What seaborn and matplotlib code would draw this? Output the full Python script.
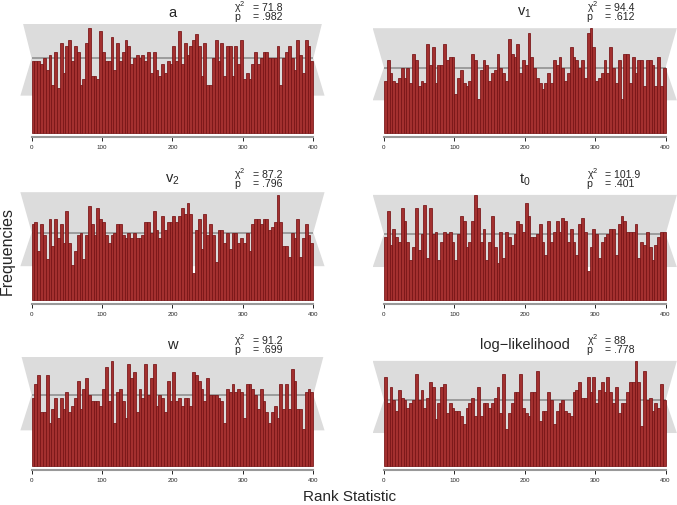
import matplotlib
matplotlib.use("Agg")
import matplotlib.pyplot as plt
import matplotlib.transforms as mtransforms
import numpy as np
import pandas as pd
import seaborn as sns

# SBC rank histograms, 100 bins of width 4 over ranks 0-400
rank_max = 400
n_bins = 100
expected = 25      # expected count per bin
band_lo = 12.5     # lower edge of the grey band
band_hi = 40       # upper edge of the grey band

panel_titles = ["a", "v$_1$", "v$_2$", "t$_0$", "w", "log\u2212likelihood"]
chi2_values = ["71.8", "94.4", "87.2", "101.9", "91.2", "88"]
p_values = [".982", ".612", ".796", ".401", ".699", ".778"]

a_counts = [24, 24, 24, 23, 25, 21, 26, 16, 27, 15,
            30, 20, 29, 31, 24, 29, 27, 16, 18, 30,
            35, 19, 19, 18, 34, 27, 24, 24, 32, 21,
            30, 24, 27, 31, 29, 23, 25, 26, 25, 26,
            24, 27, 20, 27, 21, 19, 23, 20, 24, 23,
            29, 24, 34, 23, 30, 26, 29, 31, 33, 29,
            19, 30, 16, 16, 25, 31, 24, 30, 19, 29,
            29, 19, 29, 23, 31, 18, 20, 18, 23, 27,
            23, 25, 27, 27, 25, 25, 25, 29, 16, 25,
            27, 29, 25, 21, 31, 26, 20, 31, 29, 24]

v1_counts = [20, 28, 23, 20, 19, 21, 25, 21, 25, 19,
             30, 28, 18, 20, 19, 34, 26, 33, 19, 26,
             26, 34, 28, 29, 29, 15, 21, 24, 19, 18,
             20, 30, 28, 13, 24, 28, 26, 20, 23, 24,
             30, 25, 23, 20, 36, 30, 29, 34, 23, 28,
             26, 38, 29, 25, 21, 19, 17, 19, 23, 19,
             28, 26, 29, 25, 20, 23, 33, 29, 28, 25,
             28, 21, 38, 40, 33, 20, 21, 23, 28, 23,
             33, 25, 19, 28, 13, 30, 30, 19, 29, 23,
             28, 28, 18, 28, 28, 26, 18, 29, 18, 25]

v2_counts = [28, 29, 18, 28, 24, 15, 30, 20, 30, 23,
             28, 21, 33, 21, 13, 18, 24, 25, 15, 24,
             35, 28, 24, 34, 30, 29, 24, 21, 24, 25,
             28, 28, 24, 23, 25, 23, 25, 23, 23, 24,
             29, 29, 25, 33, 26, 23, 31, 26, 29, 29,
             31, 29, 31, 34, 32, 36, 32, 10, 26, 30,
             19, 32, 24, 28, 24, 14, 26, 26, 21, 25,
             19, 25, 25, 21, 23, 21, 25, 18, 28, 30,
             30, 28, 30, 30, 26, 27, 29, 39, 29, 20,
             20, 16, 25, 23, 30, 16, 23, 28, 24, 21]

t0_counts = [24, 34, 21, 27, 24, 22, 35, 30, 22, 15,
             20, 35, 19, 25, 36, 16, 35, 25, 26, 15,
             22, 26, 25, 26, 22, 15, 25, 32, 30, 20,
             22, 30, 40, 35, 22, 27, 15, 22, 32, 20,
             14, 26, 16, 26, 24, 21, 25, 30, 29, 26,
             37, 32, 24, 24, 25, 29, 22, 17, 30, 22,
             26, 30, 26, 31, 30, 22, 27, 22, 17, 29,
             31, 26, 11, 20, 27, 25, 16, 22, 24, 25,
             27, 27, 17, 29, 32, 30, 26, 26, 26, 29,
             16, 22, 21, 26, 20, 15, 21, 24, 26, 26]

w_counts = [24, 29, 32, 19, 19, 32, 15, 20, 24, 17,
            24, 20, 26, 19, 21, 24, 30, 20, 27, 31,
            25, 23, 23, 23, 21, 27, 35, 23, 37, 15,
            26, 27, 23, 17, 36, 31, 33, 19, 27, 24,
            36, 25, 31, 36, 21, 25, 24, 19, 30, 23,
            33, 23, 24, 21, 24, 24, 21, 33, 32, 30,
            27, 23, 31, 25, 25, 25, 24, 23, 15, 27,
            26, 29, 26, 27, 26, 17, 29, 29, 27, 25,
            20, 27, 23, 19, 15, 19, 21, 17, 29, 20,
            29, 20, 34, 30, 20, 20, 13, 26, 27, 26]

ll_counts = [34, 24, 30, 25, 21, 29, 26, 25, 22, 24,
             25, 35, 25, 29, 22, 26, 32, 30, 18, 24,
             30, 31, 20, 24, 22, 21, 21, 19, 16, 22,
             24, 26, 19, 30, 19, 24, 24, 22, 24, 26,
             30, 20, 35, 14, 20, 24, 28, 28, 35, 22,
             20, 19, 28, 28, 36, 17, 21, 21, 28, 25,
             16, 21, 24, 25, 21, 20, 19, 28, 29, 32,
             26, 26, 34, 28, 34, 24, 29, 32, 28, 34,
             28, 24, 30, 20, 24, 24, 28, 32, 32, 40,
             32, 15, 36, 25, 26, 21, 24, 22, 31, 25]

all_counts = [a_counts, v1_counts, v2_counts, t0_counts, w_counts, ll_counts]

sns.set_style("white")
plt.rcParams["font.family"] = ["Liberation Sans", "DejaVu Sans"]
plt.rcParams["mathtext.fontset"] = "custom"
plt.rcParams["mathtext.rm"] = "Liberation Sans"
plt.rcParams["mathtext.it"] = "Liberation Sans:italic"

fig = plt.figure(figsize=(6.77, 5.05), dpi=100)

edges = np.linspace(0, rank_max, n_bins + 1)
centers = (edges[:-1] + edges[1:]) / 2
pad = 0.04 * rank_max

lefts = [0.0301, 0.5505]
bottoms = [0.7281, 0.3980, 0.0693]
w_ax, h_ax = 0.4493, 0.2244

for i, counts in enumerate(all_counts):
    row, col = divmod(i, 2)
    ax = fig.add_axes([lefts[col], bottoms[row], w_ax, h_ax])

    # hourglass confidence band, then expected line, bars on top
    band_x = [-pad, 0, -pad, rank_max + pad, rank_max, rank_max + pad]
    band_y = [band_lo, expected, band_hi, band_hi, expected, band_lo]
    ax.fill(band_x, band_y, color="#dcdcdc", lw=0, zorder=0)
    ax.hlines(expected, 0, rank_max, color="#8a8a8a", lw=1.1, zorder=0.5)

    df = pd.DataFrame({"rank": centers, "count": counts})
    sns.histplot(data=df, x="rank", weights="count", bins=n_bins,
                 binrange=(0, rank_max), ax=ax,
                 color="#a3302f", edgecolor="#761214", linewidth=0.55,
                 alpha=1, zorder=1)

    top = max(counts)
    ax.set_ylim(-0.04 * top, 1.04 * top)
    ax.set_xlim(-pad, rank_max + pad)

    for s in ["top", "right", "left"]:
        ax.spines[s].set_visible(False)
    ax.spines["bottom"].set_bounds(0, rank_max)
    ax.spines["bottom"].set_color("#999999")
    ax.spines["bottom"].set_linewidth(1.5)
    ax.set_yticks([])
    ax.set_xticks([0, 100, 200, 300, 400])
    ax.tick_params(axis="x", bottom=True, length=3, width=0.6, color="black",
                   labelsize=4.5, pad=2.5)
    ax.set_xlabel("")
    ax.set_ylabel("")

    trans = mtransforms.blended_transform_factory(ax.transData, ax.transAxes)
    ax.text(0.5, 1.10, panel_titles[i], transform=ax.transAxes,
            ha="center", va="center", fontsize=10.5)
    ax.text(288, 1.112, "\u03c7$^2$", transform=trans, ha="left",
            va="baseline", fontsize=7.6)
    ax.text(314, 1.112, "= " + chi2_values[i], transform=trans, ha="left",
            va="baseline", fontsize=7.6)
    ax.text(288, 1.032, "p", transform=trans, ha="left", va="baseline",
            fontsize=7.6)
    ax.text(314, 1.032, "= " + p_values[i], transform=trans, ha="left",
            va="baseline", fontsize=7.6)

fig.text(0.011, 0.502, "Frequencies", rotation=90, ha="center",
         va="center", fontsize=11.5)
fig.text(0.516, 0.016, "Rank Statistic", ha="center", va="center",
         fontsize=11)

fig.savefig("out.png", dpi=100)
